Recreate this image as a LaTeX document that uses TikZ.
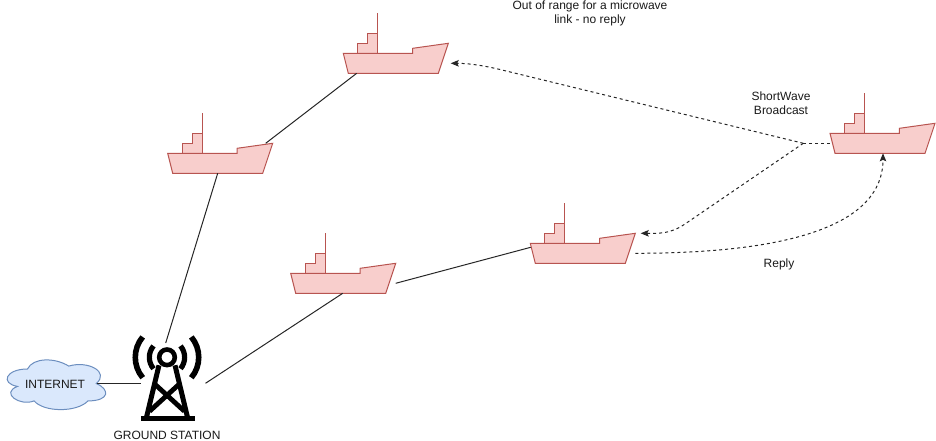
\documentclass[tikz,border=0pt]{standalone}
\usepackage{fontspec}
\setmainfont{Liberation Sans}
\usetikzlibrary{arrows.meta,calc}
\definecolor{shipfill}{HTML}{F8CECC}
\definecolor{shipline}{HTML}{B85450}
\definecolor{cloudfill}{HTML}{DAE8FC}
\definecolor{cloudline}{HTML}{6C8EBF}
\tikzset{
  x=1pt,y=-1pt,
  label text/.style={font=\fontsize{12}{14}\selectfont,align=center,inner sep=0pt,text=black!90},
  ship box/.style={minimum width=105pt,minimum height=60pt,inner sep=0pt,outer sep=0pt,anchor=north west},
  hull/.style={fill=shipfill,draw=shipline,line width=1pt,line join=miter},
  link/.style={draw=black!85,line width=1pt},
  radio/.style={draw=black!85,line width=1pt,dash pattern=on 3pt off 3pt,-{Stealth[length=8pt,width=6.5pt,inset=1.5pt]}},
  radio plain/.style={draw=black!85,line width=1pt,dash pattern=on 3pt off 3pt},
  tower/.style={draw=black,line cap=butt,line join=miter},
}
\newcommand{\shipat}[3]{%
  \node[ship box] (#1) at (#2,#3) {};
  \begin{scope}[shift={(#2,#3)}]
    \path[hull] (14.4,40) -- (14.4,30) -- (24.4,30) -- (24.4,20) -- (34.4,20) -- (34.4,40) -- cycle;
    \draw[draw=shipline,line width=1pt] (34.4,0) -- (34.4,40);
    \path[hull] (0,40) -- (69.4,40) -- (69.4,35) -- (105,30) -- (95,60) -- (5,60) -- cycle;
  \end{scope}}
\begin{document}
\begin{tikzpicture}
\useasboundingbox (0,0) rectangle (936,441);

\shipat{s1}{343.3}{13.3}
\shipat{s2}{167.7}{113.3}
\shipat{s3}{290.7}{233.3}
\shipat{s4}{530.3}{203.3}
\shipat{s5}{830}{93.3}

% Internet cloud
\node[minimum width=111pt,minimum height=58pt,inner sep=0pt,outer sep=0pt] (cloud) at (54.5,383.5) {};
\begin{scope}[shift={(0,354.5)},x=110pt,y=-58pt]
  \path[fill=cloudfill,draw=cloudline,line width=1pt]
    (.25,.25) .. controls (.05,.25) and (0,.5) .. (.16,.55)
    .. controls (0,.66) and (.18,.9) .. (.31,.8)
    .. controls (.4,1) and (.7,1) .. (.8,.8)
    .. controls (1,.8) and (1,.6) .. (.875,.5)
    .. controls (1,.3) and (.8,.1) .. (.625,.2)
    .. controls (.5,.05) and (.3,.05) .. (.25,.25) -- cycle;
\end{scope}
\node[label text] (inet) at (55,384) {INTERNET};

% Tower (y up inside this scope)
\node[minimum width=74pt,minimum height=88pt,inner sep=0pt,outer sep=0pt] (station) at (167.5,377) {};
\begin{scope}[shift={(167,357.3)},y=1pt]
  \draw[tower,line width=4.6pt] (0,0) circle (7.8);
  \draw[tower,line width=5.2pt] (-13.5,-11.4) arc[start angle=220,end angle=140,radius=17.7];
  \draw[tower,line width=5.2pt] (13.5,-11.4) arc[start angle=-40,end angle=40,radius=17.7];
  \draw[tower,line width=5.6pt] (-24.3,-20.4) arc[start angle=220,end angle=140,radius=31.7];
  \draw[tower,line width=5.6pt] (24.3,-20.4) arc[start angle=-40,end angle=40,radius=31.7];
  \draw[tower,line width=5pt] (-8,-8) -- (-20.5,-60);
  \draw[tower,line width=5pt] (8,-8) -- (20.5,-60);
  \draw[tower,line width=4.8pt] (-12,-27) -- (17.5,-54);
  \draw[tower,line width=4.8pt] (12,-27) -- (-17.5,-54);
  \fill[black] (-26.5,-58.4) rectangle (28,-63.2);
\end{scope}
\node[label text] (gs) at (167,435) {GROUND STATION};

% Solid links
\draw[link] ([shift={(13.4,0)}]s1.south west) -- ([shift={(-7,30)}]s2.north east);
\draw[link] ([shift={(50,0)}]s2.south west) -- ([shift={(-1.8,-78)}]station.south);
\draw[link] ([shift={(52,0)}]s3.south west) -- ([shift={(38,-37.7)}]station.south);
\draw[link] ([shift={(0,-10)}]s3.south east) -- ([shift={(.4,-16)}]s4.south west);
\draw[link] ([shift={(-13,0)}]cloud.east) -- ([shift={(10.5,0)}]station.west |- cloud.east);

% Radio links
\coordinate (split) at (803.3,143.3);
\draw[radio plain] (s5.west |- split) -- (split);
\draw[radio] (split) -- (500,69.5) .. controls (480,64.7) and (466,63.3) .. (450.7,63.3);
\draw[radio] (split) -- (685,224) .. controls (670,234) and (660,233.3) .. (640.7,233.3);
\draw[radio] ([shift={(0,-10)}]s4.south east) .. controls (790,253.3) and (883,225) .. ([shift={(53,0)}]s5.south west);

% Labels
\node[label text] (oor) at (590,13.5) {Out of range for a microwave\\link - no reply};
\node[label text] (swb) at (781,103.5) {ShortWave\\Broadcast};
\node[label text] (rpl) at (779,264) {Reply};
\end{tikzpicture}
\end{document}
